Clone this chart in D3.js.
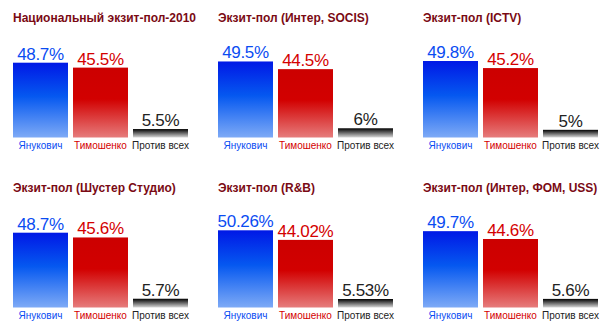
<!DOCTYPE html>
<html>
<head>
<meta charset="utf-8">
<script src="https://cdn.jsdelivr.net/npm/d3@7"></script>
<style>
  html, body { margin: 0; padding: 0; background: #fff; }
  svg { display: block; }
</style>
</head>
<body>
<svg id="chart" width="609" height="335"></svg>
<script>
// Exit-poll results, second round of the 2010 Ukrainian presidential election
const pollTitles = [
  "Национальный экзит-пол-2010",
  "Экзит-пол (Интер, SOCIS)",
  "Экзит-пол (ICTV)",
  "Экзит-пол (Шустер Студио)",
  "Экзит-пол (R&B)",
  "Экзит-пол (Интер, ФОМ, USS)"
];
const candidates = ["Янукович", "Тимошенко", "Против всех"];
const yanukovych = [48.7, 49.5, 49.8, 48.7, 50.26, 49.7];
const tymoshenko = [45.5, 44.5, 45.2, 45.6, 44.02, 44.6];
const againstAll = [5.5, 6, 5, 5.7, 5.53, 5.6];
const valueLabels = [
  ["48.7%", "45.5%", "5.5%"],
  ["49.5%", "44.5%", "6%"],
  ["49.8%", "45.2%", "5%"],
  ["48.7%", "45.6%", "5.7%"],
  ["50.26%", "44.02%", "5.53%"],
  ["49.7%", "44.6%", "5.6%"]
];

const svg = d3.select("#chart");
const font = "'Liberation Sans', Arial, Helvetica, sans-serif";

// gradients for each candidate's bars
const defs = svg.append("defs");
function vGrad(id, stops) {
  const g = defs.append("linearGradient").attr("id", id)
    .attr("x1", 0).attr("y1", 0).attr("x2", 0).attr("y2", 1);
  stops.forEach(([o, c]) => g.append("stop").attr("offset", o).attr("stop-color", c));
}
vGrad("gBlue", [[0, "#0018e6"], [0.45, "#0558f0"], [1, "#7eaaf6"]]);
vGrad("gRed", [[0, "#cc0000"], [0.45, "#d20000"], [1, "#e67c7c"]]);
vGrad("gBlack", [[0, "#000000"], [1, "#d8d8d8"]]);

const fills = ["url(#gBlue)", "url(#gRed)", "url(#gBlack)"];
const textColors = ["#0a4cf2", "#d40000", "#222222"];
const valueColors = ["#0a4cf2", "#d40000", "#222222"];

const panelW = 205, panelH = 170;
const x = d3.scaleBand().domain(candidates).range([0, 175]).paddingInner(0.0833).paddingOuter(0);
const plotTop = 0, plotBase = 137.5;
const y = d3.scaleLinear().domain([0, 50]).range([plotBase, plotBase - 76.8]);

pollTitles.forEach((title, i) => {
  const col = i % 3, row = Math.floor(i / 3);
  const g = svg.append("g")
    .attr("transform", `translate(${13 + col * panelW},${row * panelH})`);

  g.append("text")
    .attr("x", 0).attr("y", 21.5)
    .attr("font-family", font).attr("font-size", 12).attr("font-weight", "bold")
    .attr("fill", "#7a0a14")
    .text(title);

  const vals = [yanukovych[i], tymoshenko[i], againstAll[i]];
  const data = candidates.map((c, k) => ({ c, k, v: vals[k], label: valueLabels[i][k] }));

  g.selectAll("rect.bar").data(data).join("rect")
    .attr("class", "bar")
    .attr("x", d => x(d.c))
    .attr("width", x.bandwidth())
    .attr("y", d => y(d.v))
    .attr("height", d => y(0) - y(d.v))
    .attr("fill", d => fills[d.k]);

  g.selectAll("text.val").data(data).join("text")
    .attr("class", "val")
    .attr("x", d => x(d.c) + x.bandwidth() / 2)
    .attr("y", d => y(d.v) - 3)
    .attr("text-anchor", "middle")
    .attr("font-family", font).attr("font-size", 17)
    .attr("letter-spacing", "-0.3")
    .attr("fill", d => valueColors[d.k])
    .text(d => d.label);

  g.selectAll("text.cat").data(data).join("text")
    .attr("class", "cat")
    .attr("x", d => x(d.c) + x.bandwidth() / 2)
    .attr("y", plotBase + 11.8)
    .attr("text-anchor", "middle")
    .attr("font-family", font).attr("font-size", 10)
    .attr("fill", d => textColors[d.k])
    .text(d => d.c);
});
</script>
</body>
</html>
